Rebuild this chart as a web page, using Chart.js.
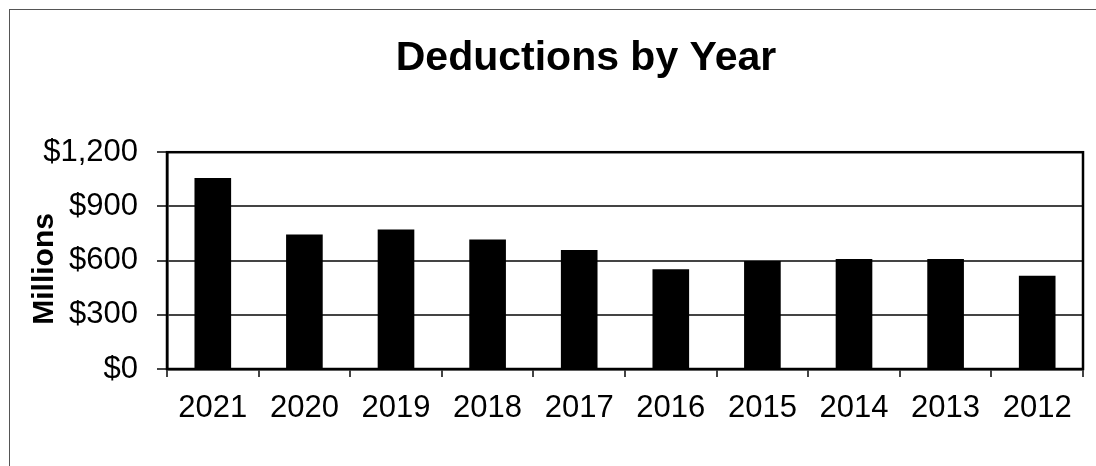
<!DOCTYPE html>
<html>
<head>
<meta charset="utf-8">
<script src="https://cdn.jsdelivr.net/npm/chart.js@4/dist/chart.umd.min.js"></script>
<style>
  html, body { margin: 0; padding: 0; background: #fff; overflow: hidden; }
  #frame {
    position: absolute; left: 9px; top: 9px; width: 2000px; height: 2000px;
    border-left: 1.5px solid #555; border-top: 1.5px solid #555;
  }
  #myChart { position: absolute; left: 0; top: 0; }
</style>
</head>
<body>
<div id="frame"></div>
<canvas id="myChart" width="1172" height="466"></canvas>
<script>
// values, in millions
const years = ["2021", "2020", "2019", "2018", "2017", "2016", "2015", "2014", "2013", "2012"];
const deductions = [1057, 744, 772, 717, 658, 552, 598, 609, 609, 516];
const yMin = 0;
const yMax = 1200;
const yStep = 300;

const FONT = "Liberation Sans, Arial, sans-serif";

// box around the plot, and the title nudged to where the original centres it
const plotBorder = {
  id: "plotBorder",
  afterLayout(chart) {
    let t = chart.titleBlock;
    if (t) { t.left += 44.5; t.right += 44.5; }
  },
  afterDraw(chart) {
    let { ctx, chartArea: a } = chart;
    ctx.save();
    ctx.strokeStyle = "#000";
    ctx.lineWidth = 2.5;
    ctx.strokeRect(a.left, a.top, a.right - a.left, a.bottom - a.top);
    ctx.restore();
  }
};

const chart = new Chart(document.getElementById("myChart"), {
  type: "bar",
  data: {
    labels: years,
    datasets: [{
      data: deductions,
      backgroundColor: "#000",
      borderWidth: 0,
      categoryPercentage: 1,
      barPercentage: 0.4
    }]
  },
  options: {
    responsive: false,
    animation: false,
    layout: { padding: { left: 0, right: 89, top: 0, bottom: 0 } },
    plugins: {
      legend: { display: false },
      tooltip: { enabled: false },
      title: {
        display: true,
        text: "Deductions by Year",
        color: "#000",
        font: { family: FONT, size: 41, weight: "bold" },
        padding: { top: 34, bottom: 69 }
      }
    },
    scales: {
      x: {
        grid: { display: true, drawOnChartArea: false, drawTicks: true, tickLength: 8, color: "#444", lineWidth: 2, offset: true },
        border: { color: "#000", width: 2.5 },
        ticks: {
          color: "#000",
          padding: 13,
          font: { family: FONT, size: 31 }
        },
        afterFit(s) { s.height = 97; }
      },
      y: {
        min: yMin,
        max: yMax,
        grid: { color: "#444", lineWidth: 2, tickLength: 10 },
        border: { color: "#000", width: 2.5 },
        ticks: {
          stepSize: yStep,
          color: "#000",
          padding: 19,
          font: { family: FONT, size: 31 },
          callback: (v) => "$" + v.toLocaleString("en-US")
        },
        title: {
          display: true,
          text: "Millions  ",
          color: "#000",
          font: { family: FONT, size: 30, weight: "bold" },
          padding: { top: 27, bottom: 0 }
        },
        afterFit(s) { s.width = 167; }
      }
    }
  },
  plugins: [plotBorder]
});
</script>
</body>
</html>
